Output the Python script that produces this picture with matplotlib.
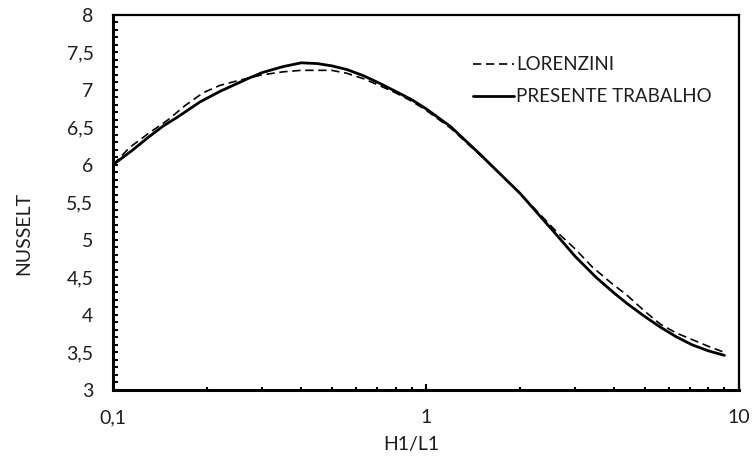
import matplotlib
matplotlib.use("Agg")
import matplotlib.pyplot as plt
from matplotlib.ticker import FixedLocator, MultipleLocator, NullFormatter, FuncFormatter

plt.rcParams['font.family'] = ['Lato', 'DejaVu Sans']

# H1/L1 ratio and Nusselt number for each curve
h1_l1_lorenzini = [0.1, 0.113, 0.13, 0.15, 0.17, 0.194, 0.22, 0.255, 0.3, 0.35, 0.4, 0.5, 0.56,
                   0.63, 0.7, 0.8, 0.9, 1.0, 1.2, 1.5, 2.0, 2.6, 3.0, 3.4, 3.9, 4.4, 5.0,
                   5.6, 6.3, 7.1, 8.0, 9.0]
nu_lorenzini = [6.0, 6.23, 6.42, 6.6, 6.79, 6.96, 7.06, 7.13, 7.2, 7.24, 7.26, 7.26, 7.22,
                7.15, 7.07, 6.96, 6.85, 6.73, 6.49, 6.12, 5.62, 5.12, 4.88, 4.64, 4.43, 4.26,
                4.05, 3.88, 3.76, 3.67, 3.58, 3.5]

h1_l1_presente = [0.1, 0.115, 0.13, 0.145, 0.16, 0.19, 0.22, 0.27, 0.3, 0.35, 0.4, 0.45,
                  0.5, 0.56, 0.63, 0.71, 0.8, 0.9, 1.0, 1.2, 1.5, 2.0, 2.6, 3.0, 3.5, 4.0,
                  4.4, 5.0, 5.6, 6.3, 7.1, 8.0, 9.0]
nu_presente = [6.0, 6.19, 6.37, 6.52, 6.63, 6.84, 6.98, 7.15, 7.23, 7.31, 7.36, 7.35,
               7.32, 7.27, 7.19, 7.09, 6.98, 6.87, 6.75, 6.51, 6.13, 5.62, 5.08, 4.78, 4.5,
               4.29, 4.15, 3.98, 3.84, 3.71, 3.6, 3.52, 3.46]

text_color = '#1e1e1e'
label_size = 14

fig = plt.figure(figsize=(7.53, 4.63), dpi=100)
ax = fig.add_axes([0.150, 0.158, 0.831, 0.810])

ax.plot(h1_l1_lorenzini, nu_lorenzini, color='black', lw=1.2, dashes=(5, 2.8),
        dash_joinstyle='round', label='LORENZINI')
ax.plot(h1_l1_presente, nu_presente, color='black', lw=2.0,
        solid_joinstyle='round', solid_capstyle='round', label='PRESENTE TRABALHO')

ax.set_xscale('log')
ax.set_xlim(0.1, 10)
ax.set_ylim(3, 8)

# comma as decimal separator
ax.xaxis.set_major_locator(FixedLocator([0.1, 1, 10]))
ax.xaxis.set_major_formatter(FuncFormatter(lambda v, p: f"{v:g}".replace('.', ',')))
ax.xaxis.set_minor_locator(FixedLocator([m * d for d in (0.1, 1) for m in range(2, 10)]))
ax.xaxis.set_minor_formatter(NullFormatter())
ax.yaxis.set_major_locator(MultipleLocator(0.5))
ax.yaxis.set_major_formatter(FuncFormatter(lambda v, p: f"{v:g}".replace('.', ',')))
ax.yaxis.set_minor_locator(MultipleLocator(0.1))

ax.tick_params(axis='both', which='both', direction='in', colors='black',
               labelcolor=text_color, labelsize=label_size, width=1.5)
ax.tick_params(axis='x', which='major', length=4, pad=14)
ax.tick_params(axis='x', which='minor', length=2.2)
ax.tick_params(axis='y', which='both', length=3.5, pad=14)

for side in ('left', 'bottom'):
    ax.spines[side].set_linewidth(2.2)
for side in ('top', 'right'):
    ax.spines[side].set_linewidth(1.6)

fig.text(0.546, 0.041, 'H1/L1', ha='center', va='center', fontsize=label_size, color=text_color)
fig.text(0.032, 0.495, 'NUSSELT', ha='center', va='center', rotation=90,
         fontsize=label_size, color=text_color)

leg = ax.legend(loc='upper left', bbox_to_anchor=(0.564, 0.91), frameon=False,
                handlelength=2.15, handletextpad=0.12, labelspacing=0.8,
                borderaxespad=0, fontsize=13.5)
for t in leg.get_texts():
    t.set_color(text_color)

fig.savefig('out.png', dpi=100)
